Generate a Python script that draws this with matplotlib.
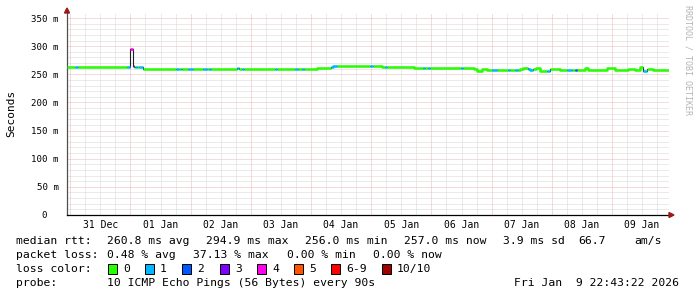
import numpy as np
import matplotlib
matplotlib.use('Agg')
import matplotlib.pyplot as plt
from matplotlib.patches import Polygon, Rectangle
from datetime import datetime, timedelta

# 图像尺寸（像素）
W, H = 697, 297
MONO = 'DejaVu Sans Mono'

# 时间窗口：10 天，结束于 Fri Jan 9 22:43:22 2026
t_end = datetime(2026, 1, 9, 22, 43, 22)
t_start = t_end - timedelta(days=10)
span_h = 240.0

# 中位 RTT 的变化点（距起点小时数, 毫秒, 丢包数/10）
hours = [0.0, 3.2, 4.2, 23.9, 25.1, 26.2, 26.8, 27.3, 28.1, 28.7,
         30.2, 43.5, 44.5, 45.4, 46.0, 48.2, 50.2, 54.2, 55.8, 56.6,
         57.4, 58.2, 65.4, 67.6, 68.6, 69.8, 70.6, 82.9, 83.9, 90.9,
         91.9, 93.7, 94.5, 99.6, 105.3, 106.2, 107.6, 120.8, 121.8, 125.6,
         126.8, 127.6, 138.3, 141.9, 142.7, 143.9, 144.7, 157.1, 157.9, 162.3,
         163.5, 165.5, 167.4, 169.4, 171.4, 175.8, 176.6, 178.6, 179.8, 180.6,
         181.8, 183.8, 184.6, 185.8, 187.0, 188.6, 191.4, 192.6, 196.5, 199.3,
         201.3, 202.5, 203.3, 206.5, 207.7, 214.5, 215.3, 218.5, 223.7, 226.5,
         228.4, 229.6, 231.2, 233.6]
median_ms = [263.0, 263.0, 263.0, 262.5, 295.0, 265.5, 263.0, 263.0, 263.0, 263.0,
             259.3, 259.3, 259.3, 259.3, 259.3, 259.8, 259.8, 259.3, 259.3, 259.3,
             259.3, 260.2, 259.3, 261.5, 259.3, 259.3, 259.3, 259.3, 259.3, 259.3,
             259.3, 259.3, 259.3, 261.3, 263.5, 265.3, 265.3, 265.3, 265.3, 263.6,
             263.6, 263.6, 260.5, 260.5, 260.5, 260.5, 260.5, 260.5, 260.5, 259.0,
             256.5, 260.0, 257.5, 257.5, 257.5, 257.5, 257.0, 257.0, 257.0, 259.0,
             261.0, 259.5, 257.0, 259.5, 261.0, 256.8, 256.8, 260.0, 257.5, 257.5,
             257.5, 257.5, 258.5, 262.0, 257.0, 258.0, 261.0, 257.5, 260.0, 258.0,
             262.5, 256.0, 260.0, 257.0]
lost_pings = [0, 1, 0, 1, 4, 3, 0, 1, 0, 1,
              0, 1, 0, 1, 0, 1, 0, 1, 0, 1,
              0, 0, 0, 1, 0, 1, 0, 1, 0, 1,
              0, 1, 0, 0, 1, 1, 0, 1, 0, 0,
              1, 0, 0, 1, 0, 1, 0, 1, 0, 0,
              0, 0, 0, 1, 0, 1, 0, 1, 0, 0,
              0, 1, 1, 0, 0, 0, 1, 0, 0, 1,
              0, 2, 0, 0, 0, 0, 0, 0, 0, 0,
              0, 1, 0, 0]

# 丢包颜色图例
loss_labels = ['0', '1', '2', '3', '4', '5', '6-9', '10/10']
loss_colors = ['#26ff00', '#00b8ff', '#0059ff', '#7e00ff',
               '#ff00ea', '#ff5500', '#ff0000', '#a10000']

# 统计文字
rtt_items = ['260.8 ms avg', '294.9 ms max', '256.0 ms min', '257.0 ms now', '3.9 ms sd', '66.7', 'am/s']
rtt_x = [107, 206, 305, 404, 503, 578, 634]
loss_items = ['0.48 % avg', '37.13 % max', '0.00 % min', '0.00 % now']
loss_x = [107, 193, 287, 373]


def px(x, y):
    """像素坐标（左上原点）转为 figure 坐标"""
    return x / W, 1 - y / H


def bucket(n):
    if n >= 10:
        return 7
    if n >= 6:
        return 6
    return n


fig = plt.figure(figsize=(W / 100, H / 100), dpi=100)
fig.patch.set_facecolor('white')
ax = fig.add_axes([67 / W, 82 / H, 602 / W, 202 / H])
ax.set_xlim(0, span_h)
ax.set_ylim(0, 359)

# 网格
minor_c, major_c = '#d6d6d6', '#ebb8b8'
for v in range(0, 360, 10):
    ax.axhline(v, color=major_c if v % 50 == 0 else minor_c, lw=0.72, ls=(0, (1, 1)), zorder=0)
first_mid = datetime(t_start.year, t_start.month, t_start.day) + timedelta(days=1)
t = first_mid - timedelta(hours=18)
while t < t_end:
    h = (t - t_start).total_seconds() / 3600
    if h > 0:
        ax.axvline(h, color=major_c if t.hour == 0 else minor_c, lw=0.72, ls=(0, (1, 1)), zorder=0)
    t += timedelta(hours=6)

# 中位线：先画深色细线，再按丢包着色
hh = np.append(hours, span_h)
vv = np.append(median_ms, median_ms[-1])
bb = np.array([bucket(n) for n in lost_pings + [lost_pings[-1]]])
ax.step(hh, vv, where='post', color='#202020', lw=0.8, zorder=2)
for k, c in enumerate(loss_colors):
    part = np.where(bb == k, vv, np.nan)
    if np.all(np.isnan(part)):
        continue
    ax.step(hh, part, where='post', color=c, lw=1.8, solid_capstyle='butt', zorder=3)

# 坐标轴
for s in ['top', 'right']:
    ax.spines[s].set_visible(False)
ax.spines['left'].set_color('#505050')
ax.spines['bottom'].set_color('#000000')
ax.spines['left'].set_linewidth(0.9)
ax.spines['bottom'].set_linewidth(0.9)
yt = list(range(0, 351, 50))
ax.set_yticks(yt)
ax.set_yticklabels(['0  ' if v == 0 else '%d m' % v for v in yt], family=MONO, fontsize=6.6)
ax.tick_params(axis='y', length=0, pad=6)
ax.set_xticks([])

# 日期标签（中午位置）
d = datetime(t_start.year, t_start.month, t_start.day) + timedelta(hours=12)
while d < t_end:
    h = (d - t_start).total_seconds() / 3600
    if 0 < h < span_h:
        ax.text(h, -0.05, d.strftime('%d %b'), transform=ax.get_xaxis_transform(),
                ha='center', va='center', family=MONO, fontsize=7)
    d += timedelta(days=1)

# 箭头
arrow_c = '#9a1a1a'
fig.patches.append(Polygon([px(64.5, 13), px(69.5, 13), px(67, 8)], closed=True,
                           transform=fig.transFigure, color=arrow_c))
fig.patches.append(Polygon([px(669, 212.5), px(669, 217.5), px(674, 215)], closed=True,
                           transform=fig.transFigure, color=arrow_c))

# 轴标题与水印
fig.text(*px(11, 113), 'Seconds', rotation=90, ha='center', va='center', family=MONO, fontsize=8)
fig.text(*px(688, 5), 'RRDTOOL / TOBI OETIKER', rotation=270, ha='center', va='top',
         family=MONO, fontsize=6, color='#b4b4b4')

# 图例文字
fs = 8.2
fig.text(*px(16, 241), 'median rtt:', va='center', family=MONO, fontsize=fs)
for s, x in zip(rtt_items, rtt_x):
    fig.text(*px(x, 241), s, va='center', family=MONO, fontsize=fs)
fig.text(*px(16, 255), 'packet loss:', va='center', family=MONO, fontsize=fs)
for s, x in zip(loss_items, loss_x):
    fig.text(*px(x, 255), s, va='center', family=MONO, fontsize=fs)
fig.text(*px(16, 269), 'loss color:', va='center', family=MONO, fontsize=fs)
box_x = [108, 145, 182, 220, 257, 294, 331, 382]
for lab, c, x in zip(loss_labels, loss_colors, box_x):
    x0, y0 = px(x, 274)
    fig.patches.append(Rectangle((x0, y0), 9 / W, 10 / H, transform=fig.transFigure,
                                 facecolor=c, edgecolor='black', lw=0.7))
    fig.text(*px(x + 15, 269), lab, va='center', family=MONO, fontsize=fs)
fig.text(*px(16, 283), 'probe:', va='center', family=MONO, fontsize=fs)
fig.text(*px(107, 283), '10 ICMP Echo Pings (56 Bytes) every 90s', va='center', family=MONO, fontsize=fs)
fig.text(*px(514, 283), 'Fri Jan  9 22:43:22 2026', va='center', family=MONO, fontsize=fs)

fig.savefig('out.png', dpi=100)
